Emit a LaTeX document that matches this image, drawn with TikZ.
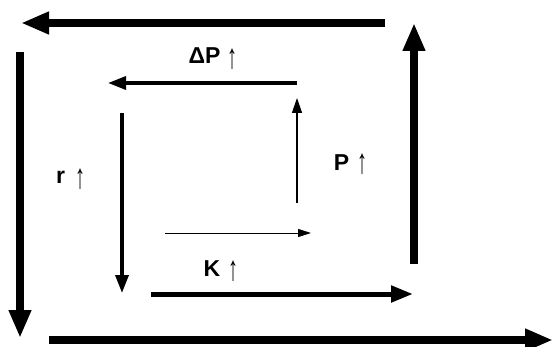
\documentclass[tikz,border=0pt]{standalone}
\usepackage{fontspec}
\setmainfont{Liberation Sans}
\usetikzlibrary{arrows.meta}
\begin{document}
\begin{tikzpicture}[x=1pt,y=-1pt,
  outer/.style={line width=7.5pt,-{Triangle[length=28pt,width=21pt]}},
  midthick/.style={line width=3.5pt,-{Triangle[length=18pt,width=13pt]}},
  kthick/.style={line width=5pt,-{Triangle[length=22pt,width=16pt]}},
  thinarr/.style={line width=1.3pt,-{Triangle[length=15pt,width=10pt]}},
  hairarr/.style={line width=1pt,-{Triangle[length=13pt,width=8pt]}},
  lbl/.style={inner sep=0pt,font=\fontsize{23}{25}\selectfont\bfseries},
  upa/.style={inner sep=0pt,font=\fontsize{20}{22}\selectfont}]
\useasboundingbox (0,0) rectangle (553,347);
% outer loop
\coordinate (ot1) at (385,23); \coordinate (ot2) at (21,23);
\coordinate (ol1) at (20,52); \coordinate (ol2) at (20,338);
\coordinate (ob1) at (49,340); \coordinate (ob2) at (553,340);
\coordinate (or1) at (414,264); \coordinate (or2) at (414,23);
\draw[outer] (ot1) -- (ot2);
\draw[outer] (ol1) -- (ol2);
\draw[outer] (ob1) -- (ob2);
\draw[outer] (or1) -- (or2);
% inner loop
\coordinate (it1) at (297,83); \coordinate (it2) at (108,83);
\coordinate (il1) at (122,113); \coordinate (il2) at (122,293);
\coordinate (ib1) at (151,294); \coordinate (ib2) at (413,294);
\coordinate (ir1) at (297,203); \coordinate (ir2) at (297,98);
\coordinate (im1) at (165,233); \coordinate (im2) at (311,233);
\draw[midthick] (it1) -- (it2);
\draw[midthick] (il1) -- (il2);
\draw[kthick] (ib1) -- (ib2);
\draw[thinarr] (ir1) -- (ir2);
\draw[hairarr] (im1) -- (im2);
% labels
\node[lbl] (dp) at (204.5,56) {ΔP};
\node[upa] (dpu) at (232,59.5) {\scalebox{1}[1.75]{↑}};
\node[lbl] (r) at (60.5,177.5) {r};
\node[upa] (ru) at (80,179.5) {\scalebox{1}[1.75]{↑}};
\node[lbl] (p) at (341.5,162.5) {P};
\node[upa] (pu) at (362,164.5) {\scalebox{1}[1.75]{↑}};
\node[lbl] (k) at (212,268.5) {K};
\node[upa] (ku) at (233,271.5) {\scalebox{1}[1.75]{↑}};
\end{tikzpicture}
\end{document}
